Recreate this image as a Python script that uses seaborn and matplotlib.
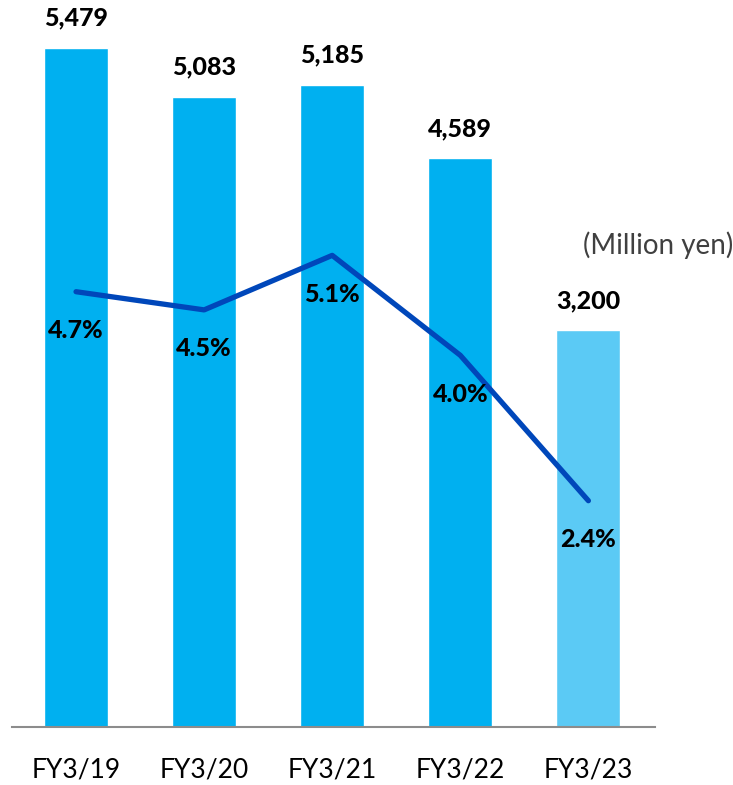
import matplotlib
matplotlib.use("Agg")
import matplotlib.pyplot as plt
import seaborn as sns
import pandas as pd

years = ["FY3/19", "FY3/20", "FY3/21", "FY3/22", "FY3/23"]
income = [5479, 5083, 5185, 4589, 3200]
margin = [4.7, 4.5, 5.1, 4.0, 2.4]
bar_colors = ["#00B0F0", "#00B0F0", "#00B0F0", "#00B0F0", "#5BCAF5"]

sns.set_theme(style="white")
plt.rcParams['font.family'] = ['Lato', 'DejaVu Sans']

df = pd.DataFrame({'year': years, 'income': income, 'margin': margin})

fig = plt.figure(figsize=(7.33, 7.85), dpi=100)
ax = fig.add_axes([12/733, 1 - 727/785, 643/733, 727/785])
sns.barplot(data=df, x='year', y='income', hue='year', palette=bar_colors,
            legend=False, width=0.5, ax=ax, saturation=1)
ax.set_ylim(0, 5867)
ax.set_xlim(-0.5, 4.52)
ax.set_xlabel('')
ax.set_ylabel('')
ax.set_yticks([])
for s in ['top', 'right', 'left']:
    ax.spines[s].set_visible(False)
ax.spines['bottom'].set_color('#8c8c8c')
ax.spines['bottom'].set_linewidth(1.5)
ax.tick_params(axis='x', length=0, pad=22, labelsize=19, labelcolor='black')

for i, v in enumerate(income):
    ax.annotate(f"{v:,}", (i, v), xytext=(0, 21.5), textcoords='offset points',
                ha='center', va='center', fontsize=18, fontweight='black',
                color='black')

ax2 = ax.twinx()
sns.lineplot(x=list(range(len(margin))), y=margin, ax=ax2, color='#0047BA',
             linewidth=3.8, solid_capstyle='round')
ax2.set_ylim(-0.09, 7.91)
ax2.set_yticks([])
ax2.set_ylabel('')
for s in ['top', 'right', 'left', 'bottom']:
    ax2.spines[s].set_visible(False)
for i, v in enumerate(margin):
    ax2.annotate(f"{v}%", (i, v), xytext=(0, -28), textcoords='offset points',
                 ha='center', va='center', fontsize=18, fontweight='black',
                 color='black')

fig.text(1.0, 1 - 245/785, "(Million yen)", fontsize=20, color='#404040',
         ha='right', va='center')

fig.savefig("out.png", dpi=100)
